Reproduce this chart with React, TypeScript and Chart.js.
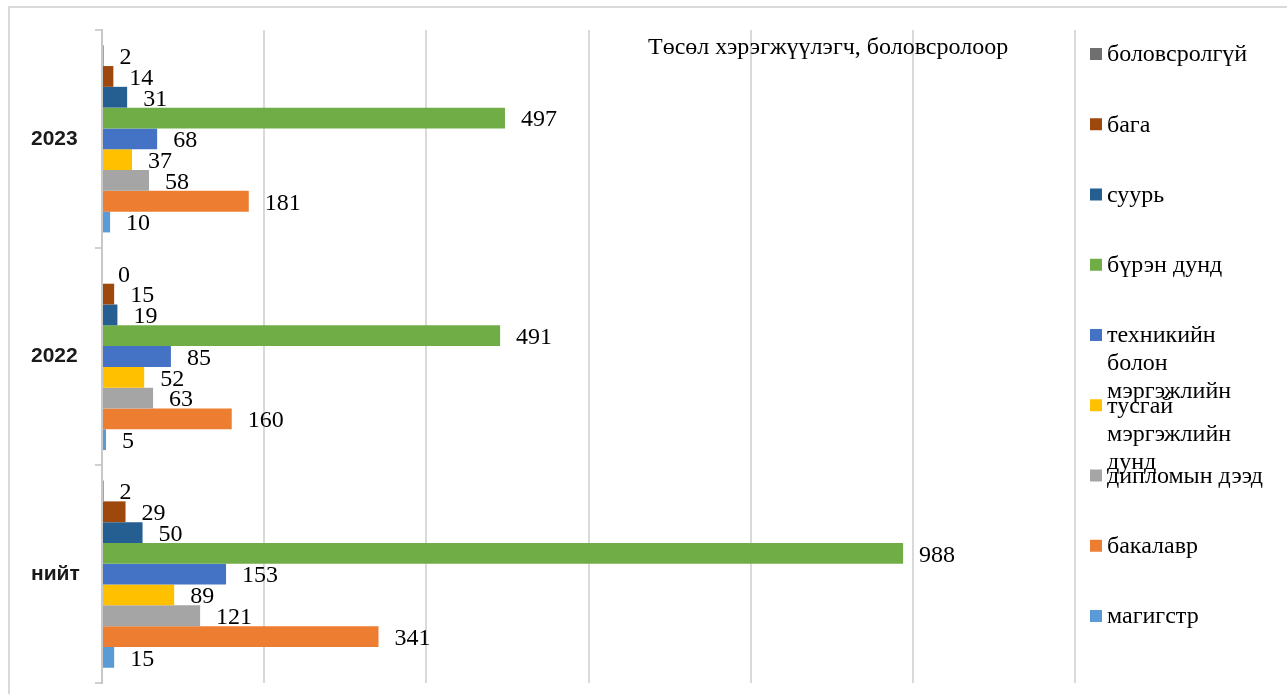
import React, { useEffect, useRef } from "react";
import { Chart, registerables } from "chart.js";

Chart.register(...registerables);

const categories = ["2023", "2022", "нийт"];
const seriesNames = [
  "боловсролгүй",
  "бага",
  "суурь",
  "бүрэн дунд",
  "техникийн болон мэргэжлийн",
  "тусгай мэргэжлийн дунд",
  "дипломын дээд",
  "бакалавр",
  "магигстр",
];
const seriesColors = [
  "#6F6F6F",
  "#9E480E",
  "#255E91",
  "#70AD47",
  "#4472C4",
  "#FFC000",
  "#A5A5A5",
  "#ED7D31",
  "#5B9BD5",
];
// values per series: [2023, 2022, нийт]
const bolovsrolgui = [2, 0, 2];
const baga = [14, 15, 29];
const suur = [31, 19, 50];
const burenDund = [497, 491, 988];
const tekhnikiin = [68, 85, 153];
const tusgai = [37, 52, 89];
const diplomyn = [58, 63, 121];
const bakalavr = [181, 160, 341];
const magistr = [10, 5, 15];
const seriesValues = [bolovsrolgui, baga, suur, burenDund, tekhnikiin, tusgai, diplomyn, bakalavr, magistr];

const xTicksMax = 1200;
const xTicksStep = 200;
const chartTitle = "Төсөл хэрэгжүүлэгч, боловсролоор";

const SERIF = "'Liberation Serif', 'DejaVu Serif', serif";

const framePlugin = {
  id: "frame",
  beforeDraw(chart: any) {
    const ctx = chart.ctx;
    ctx.save();
    ctx.fillStyle = "#ffffff";
    ctx.fillRect(0, 0, chart.width, chart.height);
    ctx.strokeStyle = "#D9D9D9";
    ctx.lineWidth = 2;
    ctx.strokeRect(9, 7, chart.width + 50, chart.height + 50);
    ctx.restore();
  },
};

const labelsPlugin = {
  id: "valueLabels",
  afterDatasetsDraw(chart: any) {
    const ctx = chart.ctx;
    ctx.save();
    ctx.font = `24px ${SERIF}`;
    ctx.fillStyle = "#000000";
    ctx.textAlign = "left";
    ctx.textBaseline = "middle";
    chart.data.datasets.forEach((ds: any, di: number) => {
      const meta = chart.getDatasetMeta(di);
      meta.data.forEach((el: any, i: number) => {
        ctx.fillText(String(ds.data[i]), el.x + 16, el.y + 2);
      });
    });
    ctx.restore();
  },
};

const legendTitlePlugin = {
  id: "legendTitle",
  afterDraw(chart: any) {
    const ctx = chart.ctx;
    ctx.save();
    ctx.font = `24px ${SERIF}`;
    ctx.fillStyle = "#000000";
    ctx.textBaseline = "middle";
    ctx.textAlign = "left";
    ctx.fillText(chartTitle, 648, 48);

    const x0 = 1090;
    const tx = 1107;
    const maxW = 166;
    seriesNames.forEach((name, i) => {
      const cy = 54 + i * 70.25;
      ctx.fillStyle = seriesColors[i];
      ctx.fillRect(x0, cy - 6, 12, 12);
      ctx.fillStyle = "#000000";
      const words = name.split(" ");
      const lines: string[] = [];
      let cur = "";
      words.forEach((w) => {
        const test = cur ? cur + " " + w : w;
        if (cur && ctx.measureText(test).width > maxW) {
          lines.push(cur);
          cur = w;
        } else cur = test;
      });
      if (cur) lines.push(cur);
      lines.forEach((ln, li) => {
        ctx.fillText(ln, tx, cy + 1 + li * 28);
      });
    });
    ctx.restore();
  },
};

export default function App() {
  const ref = useRef<HTMLCanvasElement | null>(null);
  useEffect(() => {
    if (!ref.current) return;
    const chart = new Chart(ref.current, {
      type: "bar",
      data: {
        labels: categories,
        datasets: seriesNames.map((name, i) => ({
          label: name,
          data: seriesValues[i],
          backgroundColor: seriesColors[i],
          borderWidth: 0,
          categoryPercentage: 0.86,
          barPercentage: 1,
        })),
      },
      options: {
        indexAxis: "y",
        animation: false,
        responsive: false,
        layout: { padding: { left: 31, top: 30, right: 212, bottom: 11 } },
        plugins: {
          legend: { display: false },
          tooltip: { enabled: false },
          title: { display: false },
        },
        scales: {
          x: {
            type: "linear",
            min: 0,
            max: xTicksMax,
            ticks: { stepSize: xTicksStep, display: false },
            grid: { color: "#D9D9D9", lineWidth: 2, drawTicks: false },
            border: { display: false },
            afterFit: (s: any) => {
              s.height = 0;
              s.paddingLeft = 0;
              s.paddingRight = 0;
            },
          },
          y: {
            type: "category",
            ticks: {
              crossAlign: "far",
              color: "#1a1a1a",
              font: { family: "'Liberation Sans', Arial, sans-serif", size: 21, weight: "bold" },
            },
            grid: { drawOnChartArea: false, tickLength: 7, color: "#D0D0D0", lineWidth: 2 },
            border: { color: "#C8C8C8", width: 2 },
            afterFit: (s: any) => {
              s.width = 71;
              s.paddingTop = 0;
              s.paddingBottom = 0;
            },
          },
        },
      } as any,
      plugins: [framePlugin, labelsPlugin, legendTitlePlugin],
    });
    return () => chart.destroy();
  }, []);
  return (
    <div style={{ position: "fixed", left: 0, top: 0, width: 1287, height: 694, background: "#fff" }}>
      <canvas ref={ref} width={1287} height={694} style={{ display: "block" }} />
    </div>
  );
}
